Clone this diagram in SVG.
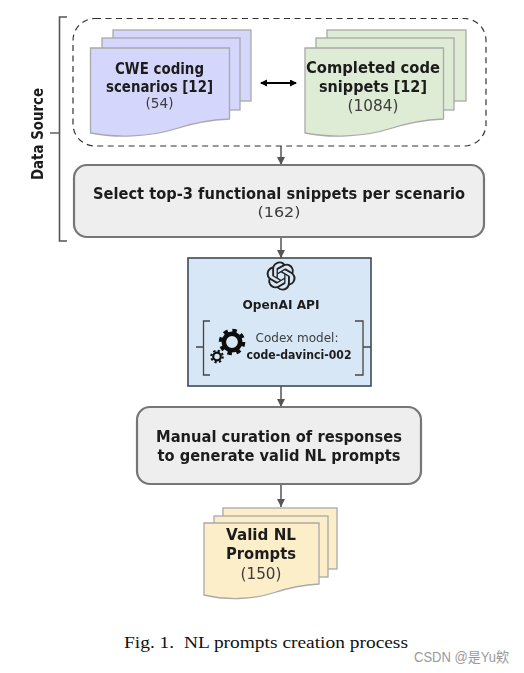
<svg xmlns="http://www.w3.org/2000/svg" width="524" height="673" viewBox="0 0 524 673">
<style>
.pg{stroke:#a9a9a9;stroke-width:1.3}
.purple{fill:#d5d6fb}.green{fill:#deecd6}.yellow{fill:#fdeeca}
.box{fill:#eeeeee;stroke:#767676;stroke-width:2.2}
.t{font-family:"DejaVu Sans",sans-serif;fill:#1c1c1c;text-anchor:middle}
.b{font-weight:bold}
.n{fill:#3c3c3c}
.ln{fill:none;stroke:#555;stroke-width:1.5}
.br{fill:none;stroke:#444;stroke-width:1.3}
</style>
<defs>
<marker id="ah" markerUnits="userSpaceOnUse" markerWidth="10" markerHeight="9" refX="8" refY="4" orient="auto"><path d="M0 0L8 4L0 8Z" fill="#555"/></marker>
<marker id="bk" markerUnits="userSpaceOnUse" markerWidth="8" markerHeight="8" refX="6" refY="3.5" orient="auto-start-reverse"><path d="M0 0L7 3.5L0 7Z" fill="#000"/></marker>
<filter id="soft" x="-5%" y="-5%" width="110%" height="110%"><feGaussianBlur stdDeviation="0.45"/></filter>
</defs>
<rect width="524" height="673" fill="#fff"/>
<g filter="url(#soft)">
<g id="connectors">
<path class="ln" d="M281 146V165" marker-end="url(#ah)"/>
<path class="ln" d="M281 237V258" marker-end="url(#ah)"/>
<path class="ln" d="M281 386V407" marker-end="url(#ah)"/>
<path class="ln" d="M281 484V507" marker-end="url(#ah)"/>
<path d="M261 83H296" fill="none" stroke="#000" stroke-width="1.8" marker-start="url(#bk)" marker-end="url(#bk)"/>
</g>
<g id="data-source">
<path d="M67 17H59.5V241H67" fill="none" stroke="#555" stroke-width="1.6"/>
<path d="M50 133H59.5" fill="none" stroke="#555" stroke-width="1.4"/>
<text class="t b" transform="translate(42.500 134) rotate(-90)" font-size="15.500" textLength="92" lengthAdjust="spacingAndGlyphs">Data Source</text>
</g>
<g id="dashed-group">
<rect x="73" y="18.500" width="413" height="127.500" rx="22" fill="none" stroke="#333" stroke-width="1.200" stroke-dasharray="6 4.500"/>
</g>
<g id="cwe-scenarios">
<rect class="pg purple" x="113" y="30" width="138" height="71"/>
<rect class="pg purple" x="102" y="38" width="138" height="72"/>
<path class="pg purple" d="M90.500 48H229.500V119C205 120 190 124 175 129C150 137 115 138 90.500 133Z"/>
<text class="t b" x="159.500" y="74" font-size="15" textLength="89" lengthAdjust="spacingAndGlyphs">CWE coding</text>
<text class="t b" x="159.500" y="91.500" font-size="15" textLength="107" lengthAdjust="spacingAndGlyphs">scenarios [12]</text>
<text class="t n" x="159.500" y="108" font-size="14.500" textLength="28" lengthAdjust="spacingAndGlyphs">(54)</text>
</g>
<g id="code-snippets">
<rect class="pg green" x="327" y="30" width="139" height="71"/>
<rect class="pg green" x="316" y="38" width="138" height="72"/>
<path class="pg green" d="M305 48H443.500V119C419 120 404 124 389 129C364 137 329 138 305 133Z"/>
<text class="t b" x="373" y="72.500" font-size="15.500" textLength="134" lengthAdjust="spacingAndGlyphs">Completed code</text>
<text class="t b" x="373" y="91.500" font-size="15.500" textLength="108" lengthAdjust="spacingAndGlyphs">snippets [12]</text>
<text class="t n" x="373" y="111" font-size="15" textLength="51" lengthAdjust="spacingAndGlyphs">(1084)</text>
</g>
<g id="select-top3">
<rect class="box" x="74" y="165" width="410" height="72" rx="13"/>
<text class="t b" x="279" y="198.500" font-size="15.500" textLength="372" lengthAdjust="spacingAndGlyphs">Select top-3 functional snippets per scenario</text>
<text class="t n" x="279" y="217" font-size="14.500" textLength="43" lengthAdjust="spacingAndGlyphs">(162)</text>
</g>
<g id="openai-api">
<rect x="188" y="258" width="183" height="128" fill="#d8e7f5" stroke="#3f4a55" stroke-width="1.600"/>
<path transform="translate(266.500 261.500) scale(1.210)" fill="#222" d="M22.2819 9.8211a5.9847 5.9847 0 0 0-.5157-4.9108 6.0462 6.0462 0 0 0-6.5098-2.9A6.0651 6.0651 0 0 0 4.9807 4.1818a5.9847 5.9847 0 0 0-3.9977 2.9 6.0462 6.0462 0 0 0 .7427 7.0966 5.98 5.98 0 0 0 .511 4.9107 6.051 6.051 0 0 0 6.5146 2.9001A5.9847 5.9847 0 0 0 13.2599 24a6.0557 6.0557 0 0 0 5.7718-4.2058 5.9894 5.9894 0 0 0 3.9977-2.9001 6.0557 6.0557 0 0 0-.7475-7.0729zm-9.022 12.6081a4.4755 4.4755 0 0 1-2.8764-1.0408l.1419-.0804 4.7783-2.7582a.7948.7948 0 0 0 .3927-.6813v-6.7369l2.02 1.1686a.071.071 0 0 1 .038.052v5.5826a4.504 4.504 0 0 1-4.4945 4.4944zm-9.6607-4.1254a4.4708 4.4708 0 0 1-.5346-3.0137l.142.0852 4.783 2.7582a.7712.7712 0 0 0 .7806 0l5.8428-3.3685v2.3324a.0804.0804 0 0 1-.0332.0615L9.74 19.9502a4.4992 4.4992 0 0 1-6.1408-1.6464zM2.3408 7.8956a4.485 4.485 0 0 1 2.3655-1.9728V11.6a.7664.7664 0 0 0 .3879.6765l5.8144 3.3543-2.0201 1.1685a.0757.0757 0 0 1-.071 0l-4.8303-2.7865A4.504 4.504 0 0 1 2.3408 7.872zm16.5963 3.8558L13.1038 8.364 15.1192 7.2a.0757.0757 0 0 1 .071 0l4.8303 2.7913a4.4944 4.4944 0 0 1-.6765 8.1042v-5.6772a.79.79 0 0 0-.407-.667zm2.0107-3.0231l-.142-.0852-4.7735-2.7818a.7759.7759 0 0 0-.7854 0L9.409 9.2297V6.8974a.0662.0662 0 0 1 .0284-.0615l4.8303-2.7866a4.4992 4.4992 0 0 1 6.6802 4.66zM8.3065 12.863l-2.02-1.1638a.0804.0804 0 0 1-.038-.0567V6.0742a4.4992 4.4992 0 0 1 7.3757-3.4537l-.142.0805L8.704 5.459a.7948.7948 0 0 0-.3927.6813zm1.0976-2.3654l2.602-1.4998 2.6069 1.4998v2.9994l-2.5974 1.4997-2.6067-1.4997Z"/>
<text class="t b" x="281" y="309" font-size="13" textLength="77" lengthAdjust="spacingAndGlyphs">OpenAI API</text>
<path class="br" d="M210 321H203.500V375H210M203.500 347H196"/>
<path class="br" d="M355 321H363V375H355M363 347H371"/>
<circle cx="232" cy="342" r="8.200" fill="none" stroke="#111" stroke-width="4.600"/>
<circle cx="232" cy="342" r="11.500" fill="none" stroke="#111" stroke-width="3.600" stroke-dasharray="4.500 4.530"/>
<circle cx="217" cy="356.500" r="3.800" fill="none" stroke="#111" stroke-width="2.200"/>
<circle cx="217" cy="356.500" r="5.800" fill="none" stroke="#111" stroke-width="2" stroke-dasharray="2.280 2.280"/>
<text class="t n" x="297" y="342" font-size="13" textLength="83" lengthAdjust="spacingAndGlyphs">Codex model:</text>
<text class="t b" x="299" y="359" font-size="12.500" textLength="105" lengthAdjust="spacingAndGlyphs">code-davinci-002</text>
</g>
<g id="manual-curation">
<rect class="box" x="137" y="407" width="284" height="77" rx="13"/>
<text class="t b" x="279" y="442" font-size="15.500" textLength="246" lengthAdjust="spacingAndGlyphs">Manual curation of responses</text>
<text class="t b" x="279" y="461" font-size="15.500" textLength="243" lengthAdjust="spacingAndGlyphs">to generate valid NL prompts</text>
</g>
<g id="valid-prompts">
<rect class="pg yellow" x="223" y="508" width="114" height="61"/>
<rect class="pg yellow" x="214" y="516" width="114" height="61"/>
<path class="pg yellow" d="M204 523H319V584C298 585 285 589 273 593C252 600 225 600 204 595Z"/>
<text class="t b" x="261" y="540" font-size="15.500" textLength="70" lengthAdjust="spacingAndGlyphs">Valid NL</text>
<text class="t b" x="261" y="559" font-size="15.500" textLength="70" lengthAdjust="spacingAndGlyphs">Prompts</text>
<text class="t n" x="261" y="579" font-size="15" textLength="41" lengthAdjust="spacingAndGlyphs">(150)</text>
</g>
</g>
<text x="124" y="648" font-family="'Liberation Serif',serif" font-size="17" fill="#111" textLength="284" lengthAdjust="spacingAndGlyphs" xml:space="preserve">Fig. 1.  NL prompts creation process</text>
<text x="414" y="662" font-family="'Liberation Sans','Noto Sans CJK SC',sans-serif" font-size="14" fill="#9a9a9a" textLength="95" lengthAdjust="spacingAndGlyphs">CSDN @是Yu欸</text>
</svg>
